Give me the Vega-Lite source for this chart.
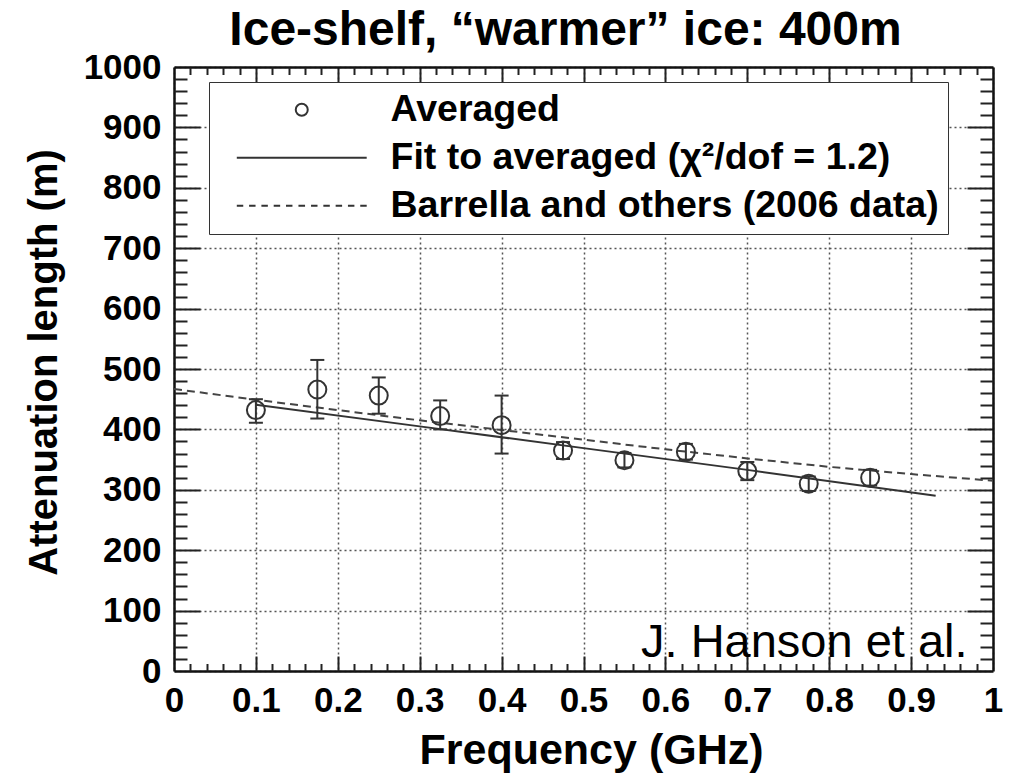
{
  "$schema": "https://vega.github.io/schema/vega-lite/v6.json",
  "autosize": {"type": "none"},
  "width": 819,
  "height": 604,
  "padding": {"left": 174, "top": 67, "right": 17, "bottom": 105},
  "background": "white",
  "title": {
    "text": "Ice-shelf, “warmer” ice: 400m",
    "font": "Liberation Sans",
    "fontSize": 48,
    "fontWeight": "bold",
    "color": "black",
    "anchor": "middle",
    "frame": "group",
    "dx": -18,
    "dy": 17,
    "offset": 12
  },
  "datasets": {
    "points": [
      {"f": 0.1, "L": 432, "lo": 411, "hi": 450, "series": "Averaged"},
      {"f": 0.175, "L": 466, "lo": 418, "hi": 515, "series": "Averaged"},
      {"f": 0.25, "L": 456, "lo": 426, "hi": 486, "series": "Averaged"},
      {"f": 0.325, "L": 422, "lo": 400, "hi": 448, "series": "Averaged"},
      {"f": 0.4, "L": 407, "lo": 360, "hi": 456, "series": "Averaged"},
      {"f": 0.475, "L": 365, "lo": 351, "hi": 379, "series": "Averaged"},
      {"f": 0.55, "L": 349, "lo": 337, "hi": 361, "series": "Averaged"},
      {"f": 0.625, "L": 363, "lo": 350, "hi": 376, "series": "Averaged"},
      {"f": 0.7, "L": 331, "lo": 316, "hi": 346, "series": "Averaged"},
      {"f": 0.775, "L": 310, "lo": 298, "hi": 322, "series": "Averaged"},
      {"f": 0.85, "L": 320, "lo": 307, "hi": 333, "series": "Averaged"}
    ],
    "fit": [
      {"f": 0.1, "L": 441},
      {"f": 0.3, "L": 405},
      {"f": 0.5, "L": 369},
      {"f": 0.7, "L": 333},
      {"f": 0.93, "L": 290}
    ],
    "barrella": [
      {"f": 0.0, "L": 467},
      {"f": 0.1, "L": 449},
      {"f": 0.2, "L": 432},
      {"f": 0.3, "L": 415},
      {"f": 0.4, "L": 399},
      {"f": 0.5, "L": 383},
      {"f": 0.6, "L": 367},
      {"f": 0.7, "L": 352},
      {"f": 0.8, "L": 338},
      {"f": 0.9, "L": 326},
      {"f": 1.0, "L": 315}
    ],
    "note": [{"label": "J. Hanson et al."}]
  },
  "resolve": {"axis": {"x": "independent", "y": "independent"}},
  "layer": [
    {
      "data": {"name": "barrella"},
      "mark": {"type": "line", "stroke": "#444", "strokeWidth": 2, "strokeDash": [8, 5]},
      "encoding": {
        "x": {
          "field": "f", "type": "quantitative",
          "scale": {"domain": [0, 1], "nice": false, "zero": false},
          "axis": {
            "orient": "bottom",
            "values": [0, 0.1, 0.2, 0.3, 0.4, 0.5, 0.6, 0.7, 0.8, 0.9, 1],
            "format": "~g",
            "labelFlush": false,
            "labelOverlap": false,
            "ticks": false,
            "domain": true, "domainColor": "#111", "domainWidth": 2.5,
            "grid": true, "gridColor": "#555", "gridDash": [2, 3], "gridWidth": 1.5,
            "labelFont": "Liberation Sans", "labelFontSize": 35, "labelFontWeight": "bold", "labelColor": "black",
            "labelBaseline": "alphabetic", "labelPadding": 40,
            "title": "Frequency (GHz)",
            "titleFont": "Liberation Sans", "titleFontSize": 43, "titleFontWeight": "bold", "titleColor": "black",
            "titleX": 417, "titleY": 92, "titleBaseline": "alphabetic"
          }
        },
        "y": {
          "field": "L", "type": "quantitative",
          "scale": {"domain": [0, 1000], "nice": false, "zero": false},
          "axis": {
            "orient": "left",
            "values": [0, 100, 200, 300, 400, 500, 600, 700, 800, 900, 1000],
            "format": "d",
            "labelOverlap": false,
            "ticks": false,
            "domain": true, "domainColor": "#111", "domainWidth": 2.5,
            "grid": true, "gridColor": "#555", "gridDash": [2, 3], "gridWidth": 1.5,
            "labelFont": "Liberation Sans", "labelFontSize": 35, "labelFontWeight": "bold", "labelColor": "black",
            "labelPadding": 13,
            "title": "Attenuation length (m)",
            "titleFont": "Liberation Sans", "titleFontSize": 40, "titleFontWeight": "bold", "titleColor": "black",
            "titleAngle": 270, "titleX": -118, "titleY": 295, "titleBaseline": "alphabetic",
            "encode": {"labels": {"update": {"dy": {"signal": "datum.value === 0 ? -13 : 0"}}}}
          }
        }
      }
    },
    {
      "data": {"name": "fit"},
      "mark": {"type": "line", "stroke": "#333", "strokeWidth": 2},
      "encoding": {
        "x": {
          "field": "f", "type": "quantitative",
          "scale": {"domain": [0, 1], "nice": false, "zero": false},
          "axis": {"orient": "bottom", "values": [0.1, 0.2, 0.3, 0.4, 0.5, 0.6, 0.7, 0.8, 0.9],
            "labels": false, "domain": false, "grid": false, "title": null,
            "ticks": true, "tickSize": -15, "tickWidth": 2, "tickColor": "#222"}
        },
        "y": {
          "field": "L", "type": "quantitative",
          "scale": {"domain": [0, 1000], "nice": false, "zero": false},
          "axis": {"orient": "left", "values": [100, 200, 300, 400, 500, 600, 700, 800, 900],
            "labels": false, "domain": false, "grid": false, "title": null,
            "ticks": true, "tickSize": -26, "tickWidth": 2, "tickColor": "#222"}
        }
      }
    },
    {
      "data": {"name": "points"},
      "mark": {"type": "rule", "stroke": "#333", "strokeWidth": 2},
      "encoding": {
        "x": {
          "field": "f", "type": "quantitative",
          "scale": {"domain": [0, 1], "nice": false, "zero": false},
          "axis": {"orient": "bottom",
            "values": [0.02,0.04,0.06,0.08,0.12,0.14,0.16,0.18,0.22,0.24,0.26,0.28,0.32,0.34,0.36,0.38,0.42,0.44,0.46,0.48,0.52,0.54,0.56,0.58,0.62,0.64,0.66,0.68,0.72,0.74,0.76,0.78,0.82,0.84,0.86,0.88,0.92,0.94,0.96,0.98],
            "labels": false, "domain": false, "grid": false, "title": null,
            "ticks": true, "tickSize": -7.5, "tickWidth": 2, "tickColor": "#222"}
        },
        "y": {
          "field": "lo", "type": "quantitative",
          "scale": {"domain": [0, 1000], "nice": false, "zero": false},
          "axis": {"orient": "left",
            "values": [20,40,60,80,120,140,160,180,220,240,260,280,320,340,360,380,420,440,460,480,520,540,560,580,620,640,660,680,720,740,760,780,820,840,860,880,920,940,960,980],
            "labels": false, "domain": false, "grid": false, "title": null,
            "ticks": true, "tickSize": -13, "tickWidth": 2, "tickColor": "#222"}
        },
        "y2": {"field": "hi"}
      }
    },
    {
      "data": {"name": "points"},
      "transform": [{"fold": ["lo", "hi"], "as": ["end", "v"]}],
      "mark": {"type": "tick", "orient": "horizontal", "size": 14, "thickness": 2, "color": "#333", "opacity": 1},
      "encoding": {
        "x": {
          "field": "f", "type": "quantitative",
          "scale": {"domain": [0, 1], "nice": false, "zero": false},
          "axis": {"orient": "top", "values": [0.1, 0.2, 0.3, 0.4, 0.5, 0.6, 0.7, 0.8, 0.9],
            "labels": false, "grid": false, "title": null,
            "domain": true, "domainColor": "#111", "domainWidth": 2.5,
            "ticks": true, "tickSize": -15, "tickWidth": 2, "tickColor": "#222"}
        },
        "y": {
          "field": "v", "type": "quantitative",
          "scale": {"domain": [0, 1000], "nice": false, "zero": false},
          "axis": {"orient": "right", "values": [100, 200, 300, 400, 500, 600, 700, 800, 900],
            "labels": false, "grid": false, "title": null,
            "domain": true, "domainColor": "#111", "domainWidth": 2.5,
            "ticks": true, "tickSize": -26, "tickWidth": 2, "tickColor": "#222"}
        }
      }
    },
    {
      "data": {"name": "points"},
      "mark": {"type": "point", "filled": false, "stroke": "#333", "strokeWidth": 2, "size": 2025, "opacity": 1},
      "encoding": {
        "x": {
          "field": "f", "type": "quantitative",
          "scale": {"domain": [0, 1], "nice": false, "zero": false},
          "axis": {"orient": "top",
            "values": [0.02,0.04,0.06,0.08,0.12,0.14,0.16,0.18,0.22,0.24,0.26,0.28,0.32,0.34,0.36,0.38,0.42,0.44,0.46,0.48,0.52,0.54,0.56,0.58,0.62,0.64,0.66,0.68,0.72,0.74,0.76,0.78,0.82,0.84,0.86,0.88,0.92,0.94,0.96,0.98],
            "labels": false, "domain": false, "grid": false, "title": null,
            "ticks": true, "tickSize": -7.5, "tickWidth": 2, "tickColor": "#222"}
        },
        "y": {
          "field": "L", "type": "quantitative",
          "scale": {"domain": [0, 1000], "nice": false, "zero": false},
          "axis": {"orient": "right",
            "values": [20,40,60,80,120,140,160,180,220,240,260,280,320,340,360,380,420,440,460,480,520,540,560,580,620,640,660,680,720,740,760,780,820,840,860,880,920,940,960,980],
            "labels": false, "domain": false, "grid": false, "title": null,
            "ticks": true, "tickSize": -13, "tickWidth": 2, "tickColor": "#222"}
        },
        "shape": {
          "field": "series", "type": "nominal",
          "scale": {
            "domain": ["Averaged", "Fit to averaged (χ²/dof = 1.2)", "Barrella and others (2006 data)"],
            "range": [
              "M-0.4,0A0.4,0.4 0 1,1 0.4,0A0.4,0.4 0 1,1 -0.4,0Z",
              "M-4.33,0L4.33,0",
              "M-4.33,0L-3.9,0M-3.51,0L-3.08,0M-2.69,0L-2.26,0M-1.87,0L-1.44,0M-1.05,0L-0.62,0M-0.22,0L0.22,0M0.62,0L1.05,0M1.44,0L1.87,0M2.26,0L2.69,0M3.08,0L3.51,0M3.9,0L4.33,0"
            ]
          },
          "legend": {
            "title": null,
            "orient": "none",
            "legendX": 35,
            "legendY": 15,
            "padding": 9,
            "strokeColor": "#333",
            "fillColor": "white",
            "symbolSize": 900,
            "symbolStrokeWidth": 2,
            "symbolStrokeColor": "#333",
            "symbolFillColor": "transparent",
            "symbolOffset": 65,
            "labelOffset": 70,
            "rowPadding": 9,
            "labelFont": "Liberation Sans",
            "labelFontSize": 37.5,
            "labelFontWeight": "bold",
            "labelColor": "black",
            "labelLimit": 0,
            "encode": {
              "legend": {"update": {"strokeWidth": {"value": 2}}},
              "symbols": {"update": {"size": {"value": 900}, "opacity": {"value": 1}, "fill": {"value": "transparent"}, "stroke": {"value": "#333"}, "strokeWidth": {"value": 2}}}
            }
          }
        }
      }
    },
    {
      "data": {"name": "note"},
      "mark": {"type": "text", "align": "right", "baseline": "alphabetic", "font": "Liberation Sans", "fontSize": 47, "color": "black"},
      "encoding": {
        "x": {"datum": 0.969, "type": "quantitative", "scale": {"domain": [0, 1], "nice": false, "zero": false}, "axis": null},
        "y": {"datum": 24, "type": "quantitative", "scale": {"domain": [0, 1000], "nice": false, "zero": false}, "axis": null},
        "text": {"field": "label"}
      }
    }
  ],
  "config": {
    "view": {"stroke": null},
    "font": "Liberation Sans"
  }
}
